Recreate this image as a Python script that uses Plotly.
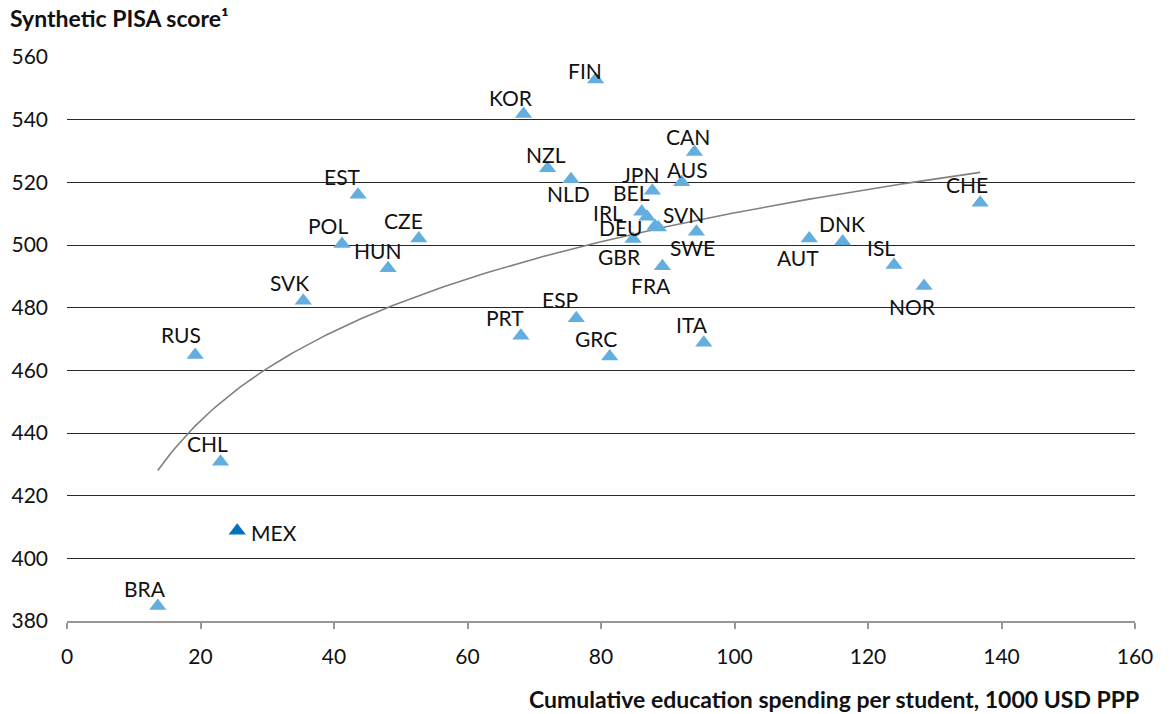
import numpy as np
import plotly.graph_objects as go

# Country codes, cumulative spending per student (1000 USD PPP) and synthetic PISA score
countries = ["FIN", "KOR", "CAN", "NZL", "NLD", "AUS", "JPN", "BEL", "IRL", "DEU",
             "SVN", "GBR", "SWE", "FRA", "AUT", "DNK", "ISL", "NOR", "CHE", "EST",
             "POL", "CZE", "HUN", "SVK", "RUS", "CHL", "MEX", "BRA", "PRT", "ESP",
             "GRC", "ITA"]
spending = [79.2, 68.4, 94.0, 72.0, 75.5, 92.1, 87.7, 86.1, 86.9, 88.1,
            88.6, 84.8, 94.3, 89.2, 111.2, 116.2, 123.9, 128.4, 136.8, 43.6,
            41.2, 52.7, 48.1, 35.4, 19.2, 23.0, 25.5, 13.6, 68.0, 76.3,
            81.3, 95.4]
pisa = [552.8, 541.8, 529.7, 524.5, 521.0, 520.0, 517.3, 510.6, 509.0, 506.1,
        505.6, 501.9, 504.2, 493.2, 502.1, 501.1, 493.6, 486.9, 513.5, 516.0,
        500.3, 502.1, 492.6, 482.2, 464.9, 430.8, 408.8, 384.8, 471.0, 476.6,
        464.4, 468.8]
highlight = "MEX"

x_ticks = [0, 20, 40, 60, 80, 100, 120, 140, 160]
y_ticks = [380, 400, 420, 440, 460, 480, 500, 520, 540, 560]

# Pixel offsets of each data label relative to its marker (dx right, dy down)
LABEL_OFFSETS = {
    "FIN": (-11, -9), "KOR": (-13, -17), "CAN": (-6, -15), "NZL": (-2, -14),
    "NLD": (-2, 14), "AUS": (6, -13), "JPN": (-11, -16), "BEL": (-10, -19),
    "IRL": (-39, -4), "DEU": (-34, 2), "SVN": (25, -13), "GBR": (-14, 17),
    "SWE": (-4, 16), "FRA": (-11, 19), "AUT": (-11, 19), "DNK": (-1, -18),
    "ISL": (-13, -18), "NOR": (-12, 20), "CHE": (-13, -18), "EST": (-16, -18),
    "POL": (-14, -19), "CZE": (-15, -18), "HUN": (-10, -18), "SVK": (-14, -18),
    "RUS": (-14, -20), "CHL": (-13, -18), "MEX": (37, 2), "BRA": (-13, -17),
    "PRT": (-16, -18), "ESP": (-16, -19), "GRC": (-14, -18), "ITA": (-12, -18),
}

LIGHT_BLUE = "rgb(98,174,222)"
DARK_BLUE = "rgb(0,114,188)"
FONT = "Lato"
TEXT = "#111111"

W, H = 1170, 714
M_L, M_R, M_T, M_B = 67, 35, 57, 93


def paper_x(px):
    return (px - M_L) / (W - M_L - M_R)


def paper_y(py):
    return (H - M_B - py) / (H - M_T - M_B)


x_arr = np.array(spending)
y_arr = np.array(pisa)

# Logarithmic trend line fitted to all countries
b, a = np.polyfit(np.log(x_arr), y_arr, 1)
trend_x = np.linspace(x_arr.min(), x_arr.max(), 200)
trend_y = a + b * np.log(trend_x)

fig = go.Figure()

fig.add_trace(go.Scatter(
    x=trend_x, y=trend_y, mode="lines",
    line=dict(color="rgb(128,128,128)", width=1.6),
    hoverinfo="skip", showlegend=False,
))

colors = [DARK_BLUE if c == highlight else LIGHT_BLUE for c in countries]
fig.add_trace(go.Scatter(
    x=spending, y=pisa, mode="markers",
    marker=dict(symbol="triangle-up", size=15, color=colors, line=dict(width=0)),
    text=countries, hovertemplate="%{text}: %{x}, %{y}<extra></extra>",
    showlegend=False,
))

for c, xv, yv in zip(countries, spending, pisa):
    dx, dy = LABEL_OFFSETS[c]
    fig.add_annotation(
        x=xv, y=yv, xref="x", yref="y", text=c, showarrow=False,
        xshift=dx, yshift=-dy,
        font=dict(family=FONT, size=21, color=TEXT),
    )

# Axis titles
fig.add_annotation(
    x=paper_x(8), y=paper_y(18), xref="paper", yref="paper",
    xanchor="left", yanchor="middle",
    text="<b>Synthetic PISA score¹</b>", showarrow=False,
    font=dict(family=FONT, size=23, color=TEXT),
)
fig.add_annotation(
    x=paper_x(1141), y=paper_y(699), xref="paper", yref="paper",
    xanchor="right", yanchor="middle",
    text="<b>Cumulative education spending per student, 1000 USD PPP</b>",
    showarrow=False,
    font=dict(family=FONT, size=23, color=TEXT),
)

fig.update_layout(
    width=W, height=H,
    margin=dict(l=M_L, r=M_R, t=M_T, b=M_B),
    paper_bgcolor="white", plot_bgcolor="white",
    font=dict(family=FONT, size=21, color=TEXT),
)
fig.update_xaxes(
    range=[0, 160], tickvals=x_ticks, ticktext=[str(v) for v in x_ticks],
    showgrid=False, zeroline=False,
    showline=True, linecolor="rgb(150,150,150)", linewidth=1.5,
    ticks="outside", ticklen=6, tickcolor="rgb(150,150,150)", tickwidth=1.5,
    ticklabelstandoff=10,
    tickfont=dict(family=FONT, size=21, color=TEXT),
)
fig.update_yaxes(
    range=[380, 560], tickvals=y_ticks, ticktext=[str(v) for v in y_ticks],
    showgrid=True, gridcolor="rgb(40,40,40)", gridwidth=1,
    zeroline=False, showline=False, ticks="",
    ticklabelstandoff=18,
    tickfont=dict(family=FONT, size=21, color=TEXT),
)

fig.write_html("out.html")
